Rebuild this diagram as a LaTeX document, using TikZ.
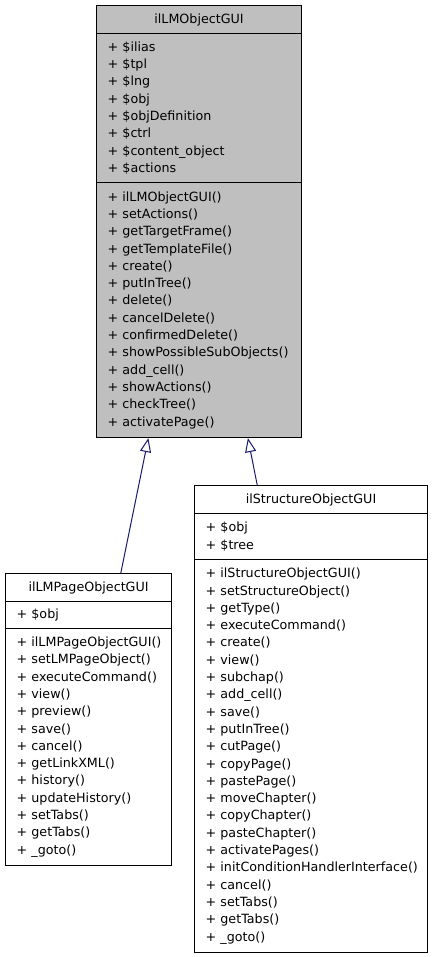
\documentclass[tikz,border=0pt]{standalone}
\usepackage{fontspec}
\setmainfont{DejaVu Sans}
\usetikzlibrary{calc,arrows.meta}
\definecolor{classgray}{HTML}{BFBFBF}
\definecolor{linkblue}{HTML}{191970}
\hyphenpenalty=10000
\exhyphenpenalty=10000

\begin{document}
\begin{tikzpicture}[
    x=1pt,
    y=-1pt,
    every node/.style={draw,line width=1.1pt,anchor=north west,inner ysep=0pt,inner xsep=11pt,
        font=\fontsize{12.7}{17.3}\selectfont},
    classname/.style={text width=#1,align=center,minimum height=28pt,text height=10.5pt,text depth=3.5pt},
    classpart/.style={text width=#1,align=left},
    extends/.style={linkblue,line width=1pt,-{Triangle[open,length=14pt,width=11pt]}}
    ]
    \useasboundingbox (0,0) rectangle (432,957);

    % base class
    \node[classname=183pt,fill=classgray] (lmobj) at (96,5) {ilLMObjectGUI};
    \node[classpart=183pt,fill=classgray,minimum height=149pt] (lmobj-attr) at (96,33)
        {+~\$ilias\\+~\$tpl\\+~\$lng\\+~\$obj\\+~\$objDefinition\\+~\$ctrl\\+~\$content\_object\\+~\$actions};
    \node[classpart=183pt,fill=classgray,minimum height=255pt] (lmobj-ops) at (96,182)
        {+~ilLMObjectGUI()\\+~setActions()\\+~getTargetFrame()\\+~getTemplateFile()\\+~create()\\+~putInTree()\\+~delete()\\+~cancelDelete()\\+~confirmedDelete()\\+~showPossibleSubObjects()\\+~add\_cell()\\+~showActions()\\+~checkTree()\\+~activatePage()};

    % page class
    \node[classname=144pt] (page) at (5,573) {ilLMPageObjectGUI};
    \node[classpart=144pt,minimum height=27pt] (page-attr) at (5,601) {+~\$obj};
    \node[classpart=144pt,minimum height=237pt] (page-ops) at (5,628)
        {+~ilLMPageObjectGUI()\\+~setLMPageObject()\\+~executeCommand()\\+~view()\\+~preview()\\+~save()\\+~cancel()\\+~getLinkXML()\\+~history()\\+~updateHistory()\\+~setTabs()\\+~getTabs()\\+~\_goto()};

    % structure class
    \node[classname=211pt] (struct) at (194,485) {ilStructureObjectGUI};
    \node[classpart=211pt,minimum height=46pt] (struct-attr) at (194,513) {+~\$obj\\+~\$tree};
    \node[classpart=211pt,minimum height=393pt] (struct-ops) at (194,559)
        {+~ilStructureObjectGUI()\\+~setStructureObject()\\+~getType()\\+~executeCommand()\\+~create()\\+~view()\\+~subchap()\\+~add\_cell()\\+~save()\\+~putInTree()\\+~cutPage()\\+~copyPage()\\+~pastePage()\\+~moveChapter()\\+~copyChapter()\\+~pasteChapter()\\+~activatePages()\\+~initConditionHandlerInterface()\\+~cancel()\\+~setTabs()\\+~getTabs()\\+~\_goto()};

    % inheritance
    \draw[extends] ($(page.north west)!0.693!(page.north east)$) -- ($(lmobj-ops.south west)!0.254!(lmobj-ops.south east)$);
    \draw[extends] ($(struct.north west)!0.27!(struct.north east)$) -- ($(lmobj-ops.south west)!0.737!(lmobj-ops.south east)$);
  \end{tikzpicture}
\end{document}
